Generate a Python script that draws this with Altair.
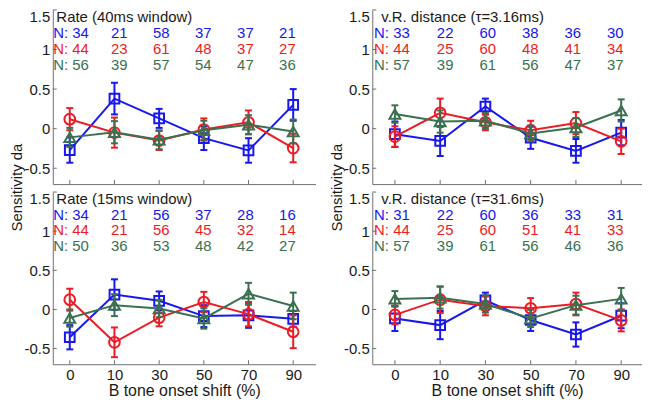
import json
import altair as alt
import pandas as pd

# ---------------- data ----------------
x_labels = ["0", "10", "30", "50", "70", "90"]
series = ["blue", "red", "green"]
series_colors = ["#1717ee", "#ec1c24", "#3b7050"]
series_shapes = ["square", "circle", "triangle-up"]
series_sizes = [95, 115, 120]

# Rate (40ms window)
r40_blue = [-0.27, 0.38, 0.13, -0.12, -0.275, 0.30]
r40_red = [0.12, -0.05, -0.15, -0.01, 0.08, -0.245]
r40_green = [-0.11, -0.045, -0.14, -0.02, 0.05, -0.035]
r40_blue_err = [0.16, 0.20, 0.12, 0.15, 0.155, 0.20]
r40_red_err = [0.14, 0.19, 0.12, 0.14, 0.15, 0.18]
r40_green_err = [0.12, 0.14, 0.12, 0.12, 0.12, 0.15]
r40_blue_n = [34, 21, 58, 37, 37, 21]
r40_red_n = [44, 23, 61, 48, 37, 27]
r40_green_n = [56, 39, 57, 54, 47, 36]

# v.R. distance (tau = 3.16 ms)
vr3_blue = [-0.07, -0.155, 0.28, -0.115, -0.28, -0.05]
vr3_red = [-0.10, 0.20, 0.08, -0.02, 0.07, -0.16]
vr3_green = [0.185, 0.09, 0.10, -0.06, 0.015, 0.23]
vr3_blue_err = [0.16, 0.19, 0.10, 0.14, 0.15, 0.16]
vr3_red_err = [0.13, 0.18, 0.10, 0.12, 0.14, 0.16]
vr3_green_err = [0.11, 0.14, 0.10, 0.10, 0.12, 0.14]
vr3_blue_n = [33, 22, 60, 38, 36, 30]
vr3_red_n = [44, 25, 60, 48, 41, 34]
vr3_green_n = [57, 39, 61, 56, 47, 37]

# Rate (15ms window)
r15_blue = [-0.355, 0.19, 0.11, -0.085, -0.075, -0.12]
r15_red = [0.125, -0.42, -0.105, 0.095, -0.06, -0.285]
r15_green = [-0.11, 0.055, 0.012, -0.115, 0.20, 0.045]
r15_blue_err = [0.155, 0.195, 0.12, 0.14, 0.16, 0.10]
r15_red_err = [0.14, 0.19, 0.11, 0.13, 0.155, 0.21]
r15_green_err = [0.11, 0.14, 0.11, 0.13, 0.14, 0.17]
r15_blue_n = [34, 21, 56, 37, 28, 16]
r15_red_n = [44, 21, 56, 45, 32, 14]
r15_green_n = [50, 36, 53, 48, 42, 27]

# v.R. distance (tau = 31.6 ms)
vr31_blue = [-0.115, -0.20, 0.115, -0.135, -0.32, -0.08]
vr31_red = [-0.07, 0.125, 0.045, 0.015, 0.07, -0.14]
vr31_green = [0.135, 0.15, 0.07, -0.115, 0.055, 0.135]
vr31_blue_err = [0.16, 0.18, 0.10, 0.14, 0.155, 0.16]
vr31_red_err = [0.12, 0.17, 0.12, 0.13, 0.145, 0.14]
vr31_green_err = [0.10, 0.14, 0.11, 0.11, 0.12, 0.14]
vr31_blue_n = [31, 22, 60, 36, 33, 31]
vr31_red_n = [44, 25, 60, 51, 41, 33]
vr31_green_n = [57, 39, 61, 56, 46, 36]

y_ticks = [-0.5, 0, 0.5, 1, 1.5]

# ---------------- styling ----------------
AX = "#707070"
TXT = "#1a1a1a"
FS = 15
Y_DOMAIN = [-0.7, 1.5]
ROW_Y = [1.21, 1.01, 0.81]
TITLE_Y = 1.41
Y_LABEL_EXPR = "datum.value < 0 ? '-' + format(-datum.value, '~g') : format(datum.value, '~g')"


def make_panel(title, means, errs, ns, width, height, xdom, top, nx):
    if top:
        xaxis = alt.Axis(values=list(range(6)), labels=False, ticks=False, grid=False,
                         title=None, domainColor=AX, domainWidth=1)
        yaxis = alt.Axis(values=y_ticks, ticks=False, grid=False, domainColor=AX,
                         labelExpr=Y_LABEL_EXPR,
                         labelFontSize=FS, labelColor=TXT, labelPadding=3, labelFlush=True,
                         title="Sensitivity da", titleFontSize=FS, titleFontWeight="normal",
                         titleColor=TXT, titleX=-28, titleY=178)
    else:
        xaxis = alt.Axis(values=list(range(6)), ticks=False, grid=False, domainColor=AX,
                         domainWidth=1,
                         labelExpr=json.dumps(x_labels) + "[datum.value]",
                         labelFontSize=FS, labelColor=TXT, labelPadding=3,
                         title="B tone onset shift (%)", titleFontSize=16,
                         titleFontWeight="normal", titleColor=TXT, titlePadding=0)
        yaxis = alt.Axis(values=y_ticks, ticks=False, grid=False, domainColor=AX,
                         labelExpr=Y_LABEL_EXPR,
                         labelFontSize=FS, labelColor=TXT, labelPadding=3, labelFlush=True,
                         title=None)
    xs = alt.Scale(domain=xdom, nice=False, zero=False)
    ys = alt.Scale(domain=Y_DOMAIN, nice=False, zero=False)

    def X(f):
        return alt.X(f + ":Q", scale=xs, axis=xaxis)

    def Y(f):
        return alt.Y(f + ":Q", scale=ys, axis=yaxis)

    layers = []
    # inner ticks
    layers.append(alt.Chart(pd.DataFrame({"v": y_ticks})).mark_rule(color=AX, strokeWidth=1)
                  .encode(y=Y("v"), x=alt.value(0), x2=alt.value(4)))
    layers.append(alt.Chart(pd.DataFrame({"i": list(range(6))})).mark_rule(color=AX, strokeWidth=1)
                  .encode(x=X("i"), y=alt.value(height), y2=alt.value(height - 4)))

    for si in range(3):
        c = series_colors[si]
        df = pd.DataFrame({
            "idx": list(range(6)),
            "val": means[si],
            "lo": [m - e for m, e in zip(means[si], errs[si])],
            "hi": [m + e for m, e in zip(means[si], errs[si])],
        })
        base = alt.Chart(df)
        layers.append(base.mark_line(color=c, strokeWidth=2).encode(x=X("idx"), y=Y("val")))
        layers.append(base.mark_rule(color=c, strokeWidth=2)
                      .encode(x=X("idx"), y=Y("lo"), y2="hi:Q"))
        layers.append(base.mark_tick(color=c, orient="horizontal", size=7, thickness=2, opacity=1)
                      .encode(x=X("idx"), y=Y("lo")))
        layers.append(base.mark_tick(color=c, orient="horizontal", size=7, thickness=2, opacity=1)
                      .encode(x=X("idx"), y=Y("hi")))
        layers.append(base.mark_point(shape=series_shapes[si], size=series_sizes[si], filled=False,
                                      strokeWidth=2, color=c, opacity=1)
                      .encode(x=X("idx"), y=Y("val")))

        # N rows: first entry carries the "N:" prefix, the rest are column numbers
        first = pd.DataFrame({"x": [nx], "y": [ROW_Y[si]], "t": ["N: " + str(ns[si][0])]})
        layers.append(alt.Chart(first).mark_text(align="left", baseline="middle", fontSize=FS, color=c)
                      .encode(x=X("x"), y=Y("y"), text="t:N"))
        nums = pd.DataFrame({"x": [0.17 + 0.94 * i for i in range(1, 6)],
                             "y": [ROW_Y[si]] * 5,
                             "t": [str(v) for v in ns[si][1:]]})
        layers.append(alt.Chart(nums).mark_text(align="center", baseline="middle", fontSize=FS, color=c)
                      .encode(x=X("x"), y=Y("y"), text="t:N"))

    tdf = pd.DataFrame({"x": [-0.30], "y": [TITLE_Y], "t": [title]})
    layers.append(alt.Chart(tdf).mark_text(align="left", baseline="middle", fontSize=FS, color=TXT)
                  .encode(x=X("x"), y=Y("y"), text="t:N"))

    return alt.layer(*layers).properties(width=width, height=height)


tl = make_panel("Rate (40ms window)",
                [r40_blue, r40_red, r40_green],
                [r40_blue_err, r40_red_err, r40_green_err],
                [r40_blue_n, r40_red_n, r40_green_n],
                264, 175, [-0.38, 5.5], True, -0.37)
bl = make_panel("Rate (15ms window)",
                [r15_blue, r15_red, r15_green],
                [r15_blue_err, r15_red_err, r15_green_err],
                [r15_blue_n, r15_red_n, r15_green_n],
                264, 173, [-0.38, 5.5], False, -0.37)
tr = make_panel("v.R. distance (τ=3.16ms)",
                [vr3_blue, vr3_red, vr3_green],
                [vr3_blue_err, vr3_red_err, vr3_green_err],
                [vr3_blue_n, vr3_red_n, vr3_green_n],
                271, 175, [-0.5, 5.46], True, -0.46)
br = make_panel("v.R. distance (τ=31.6ms)",
                [vr31_blue, vr31_red, vr31_green],
                [vr31_blue_err, vr31_red_err, vr31_green_err],
                [vr31_blue_n, vr31_red_n, vr31_green_n],
                271, 173, [-0.5, 5.46], False, -0.46)

chart = (
    alt.concat(tl, tr, bl, br, columns=2, spacing={"row": 8, "column": 57}, bounds="flush")
    .properties(padding={"left": 2, "top": 0, "right": 0, "bottom": 0})
    .configure(font="Liberation Sans")
    .configure_view(stroke=None)
)

chart.save("out.html", embed_options={"renderer": "svg", "actions": False})
